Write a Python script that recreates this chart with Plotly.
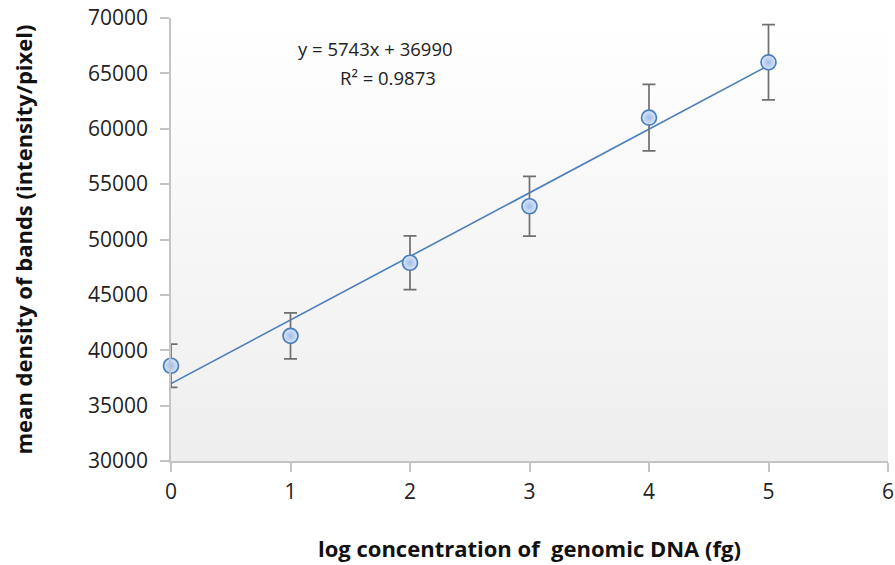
import plotly.graph_objects as go

# data
log_conc = [0, 1, 2, 3, 4, 5]
mean_density = [38600, 41300, 47900, 53000, 61000, 66000]
error = [1950, 2080, 2420, 2700, 3000, 3400]

slope = 5743
intercept = 36990
r_squared = 0.9873

x_range = [0, 6]
y_range = [30000, 70000]
x_ticks = [0, 1, 2, 3, 4, 5, 6]
y_ticks = list(range(30000, 70001, 5000))
y_tick_text = [str(v) for v in y_ticks]
x_tick_text = [str(v) for v in x_ticks]

FONT = "Open Sans"
W, H = 895, 565
ML, MR, MT, MB = 171, 7, 18, 104
PW, PH = W - ML - MR, H - MT - MB


def px_x(sx):
    return (sx - ML) / PW


def px_y(sy):
    return (H - MB - sy) / PH


fig = go.Figure()

# gradient background of the plot area
fig.add_trace(go.Scatter(
    x=[x_range[0], x_range[1], x_range[1], x_range[0], x_range[0]],
    y=[y_range[0], y_range[0], y_range[1], y_range[1], y_range[0]],
    mode="none", fill="toself",
    fillgradient=dict(type="vertical",
                      colorscale=[[0, "#eeeeee"], [1, "#ffffff"]]),
    hoverinfo="skip", showlegend=False,
))

# trendline
trend_x = [log_conc[0], log_conc[-1]]
trend_y = [slope * v + intercept for v in trend_x]
fig.add_trace(go.Scatter(
    x=trend_x, y=trend_y, mode="lines",
    line=dict(color="#4a7ebb", width=1.6),
    showlegend=False, hoverinfo="skip",
))

# data points with error bars
fig.add_trace(go.Scatter(
    x=log_conc, y=mean_density, mode="markers", cliponaxis=False,
    error_y=dict(type="data", array=error, visible=True,
                 color="#6f6f6f", thickness=1.7, width=6.5),
    marker=dict(size=15, color="#dbe7fb", symbol="circle",
                gradient=dict(type="radial", color="#9fbdea"),
                line=dict(color="#4a7ebb", width=1.7)),
    showlegend=False,
))

ann_font = dict(family=FONT, size=18.5, color="#222222")
fig.add_annotation(
    x=px_x(375), y=px_y(48), xref="paper", yref="paper",
    text=f"y = {slope}x + {intercept}", showarrow=False, font=ann_font,
    xanchor="center", yanchor="middle",
)
fig.add_annotation(
    x=px_x(388), y=px_y(77), xref="paper", yref="paper",
    text=f"R² = {r_squared}", showarrow=False, font=ann_font,
    xanchor="center", yanchor="middle",
)

title_font = dict(family=FONT, size=22, color="#111111")
fig.add_annotation(
    x=0.5, y=px_y(548), xref="paper", yref="paper",
    text="<b>log concentration of \u00a0genomic DNA (fg)</b>",
    showarrow=False, font=title_font,
    xanchor="center", yanchor="middle",
)
fig.add_annotation(
    x=px_x(22), y=0.5, xref="paper", yref="paper",
    text="<b>mean density of bands (intensity/pixel)</b>",
    textangle=-90, showarrow=False, font=title_font,
    xanchor="center", yanchor="middle",
)

fig.update_layout(
    width=W, height=H,
    margin=dict(l=ML, r=MR, t=MT, b=MB),
    paper_bgcolor="white", plot_bgcolor="white",
    font=dict(family=FONT, color="#222222"),
)

tick_font = dict(family=FONT, size=21, color="#222222")
fig.update_xaxes(
    range=x_range, tickmode="array", tickvals=x_ticks, ticktext=x_tick_text,
    showgrid=False, automargin=False, ticklabeloverflow="allow",
    zeroline=False, showline=True, linecolor="#c4c4c4", linewidth=1.5,
    ticks="outside", ticklen=9, tickcolor="#c4c4c4", tickwidth=1.5,
    tickfont=tick_font, ticklabelstandoff=2,
)
fig.update_yaxes(
    range=y_range, tickmode="array", tickvals=y_ticks, ticktext=y_tick_text,
    showgrid=True, automargin=False, ticklabeloverflow="allow",
    gridcolor="#d9d9d9", gridwidth=1.5,
    zeroline=False, showline=True, linecolor="#c4c4c4", linewidth=1.5,
    ticks="outside", ticklen=9, tickcolor="#c4c4c4", tickwidth=1.5,
    tickfont=tick_font, ticklabelstandoff=8,
)

fig.write_html(
    "out.html",
    config={"displayModeBar": False},
    post_script="document.body.style.margin='0';"
                "document.body.style.overflow='hidden';",
)
